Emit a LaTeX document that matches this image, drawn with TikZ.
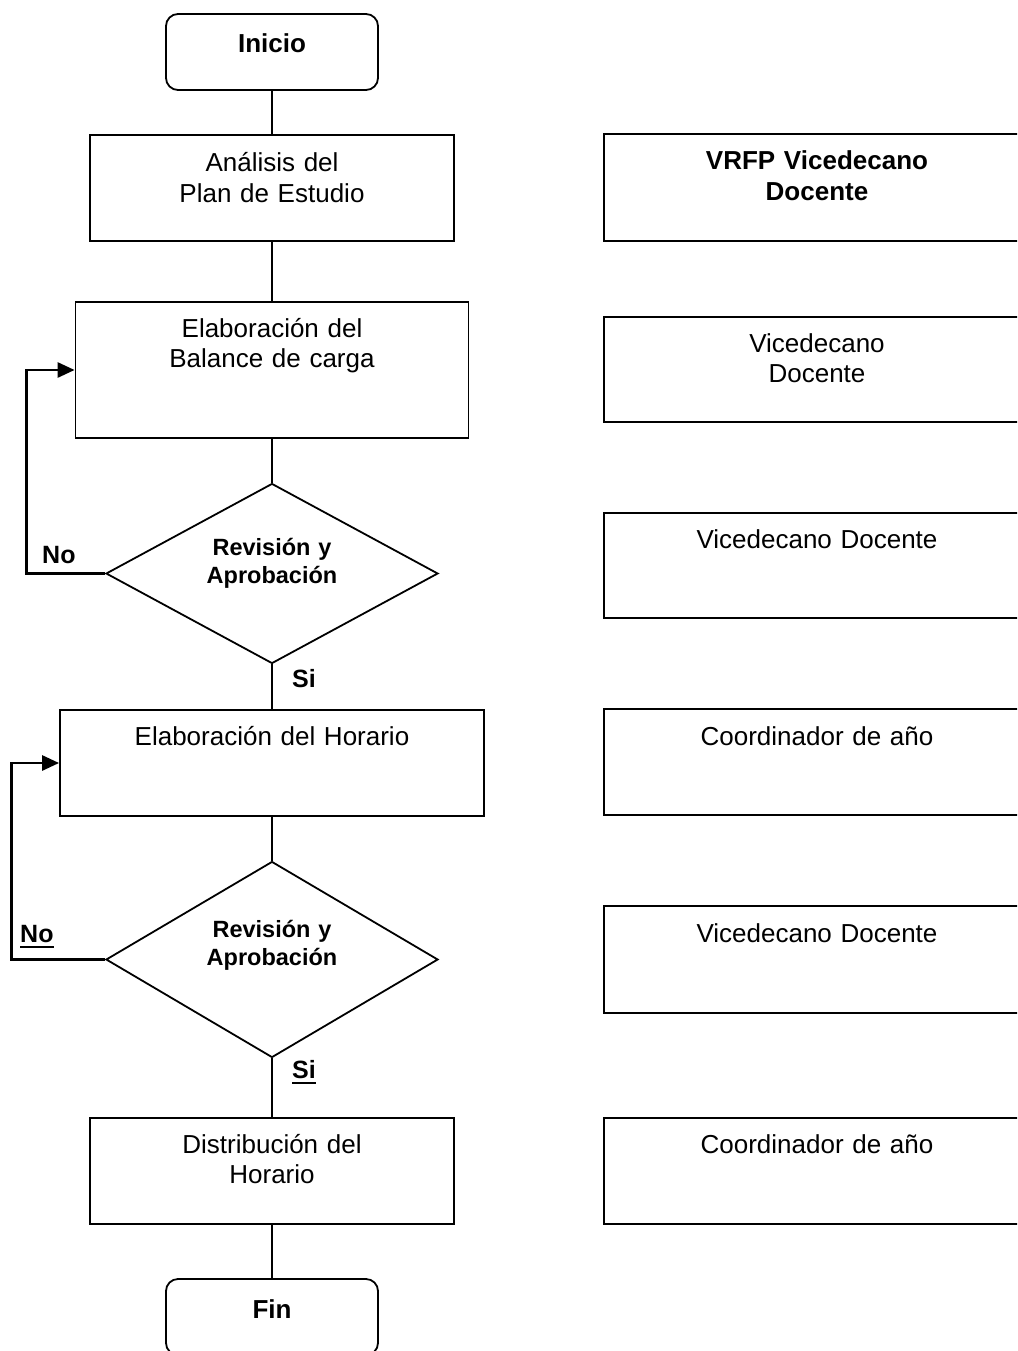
\documentclass[tikz,border=0pt]{standalone}
\usepackage{fontspec}
\setmainfont{Liberation Sans}
\usetikzlibrary{shapes.geometric,arrows.meta}
% bold text with a heavy rule drawn below it
\newcommand\ulbold[1]{\setbox0\hbox{\bfseries #1}\rlap{\rule[-5.5pt]{\wd0}{2pt}}\box0}
\begin{document}
\begin{tikzpicture}[x=1pt,y=-1pt,
  procbox/.style={draw,line width=1.8pt,inner sep=0pt},
  terminal/.style={procbox,rounded corners=12pt,minimum width=212pt,minimum height=76pt},
  decision/.style={draw,diamond,line width=1.8pt,inner sep=0pt,minimum width=332pt},
  rolebox/.style={procbox,minimum width=426pt},
  txt/.style={font=\fontsize{26}{30.5}\selectfont,align=center,text width=420pt,anchor=base,inner sep=0pt},
  dtxt/.style={txt,font=\fontsize{23.5}{28.5}\selectfont\bfseries},
  flag/.style={font=\fontsize{25}{30}\selectfont\bfseries,anchor=base west,inner sep=0pt},
  flow/.style={line width=1.8pt},
  back/.style={line width=2.8pt,-{Triangle[length=17pt,width=15pt]}}]
\path[use as bounding box,clip] (0,0) rectangle (1017,1351);
\fill[white] (0,0) rectangle (1017,1351);

% main flow
\node[terminal] (inicio) at (272,52) {};
\node[txt] (tinicio) at (272,53) {\bfseries Inicio};
\node[procbox,minimum width=364pt,minimum height=106pt] (analisis) at (272,188) {};
\node[txt] (tanalisis) at (272,172) {Análisis del\\Plan de Estudio};
\node[procbox,minimum width=393pt,minimum height=136pt] (balance) at (272,370) {};
\node[txt] (tbalance) at (272,337) {Elaboración del\\Balance de carga};
\node[decision,minimum height=180pt] (rev1) at (272,573.5) {};
\node[dtxt] (trev1) at (272,555) {Revisión y\\Aprobación};
\node[procbox,minimum width=424pt,minimum height=106pt] (horario) at (272,763) {};
\node[txt] (thorario) at (272,745) {Elaboración del Horario};
\node[decision,minimum height=196pt] (rev2) at (272,959.5) {};
\node[dtxt] (trev2) at (272,937) {Revisión y\\Aprobación};
\node[procbox,minimum width=364pt,minimum height=106pt] (distrib) at (272,1171) {};
\node[txt] (tdistrib) at (272,1153) {Distribución del\\Horario};
\node[terminal] (fin) at (272,1317) {};
\node[txt] (tfin) at (272,1318) {\bfseries Fin};

\draw[flow] (inicio) -- (analisis);
\draw[flow] (analisis) -- (balance);
\draw[flow] (balance) -- (rev1);
\draw[flow] (rev1) -- (horario);
\draw[flow] (horario) -- (rev2);
\draw[flow] (rev2) -- (distrib);
\draw[flow] (distrib) -- (fin);

% return paths
\draw[back] (rev1.west) -- ++(-79,0) |- (balance.west);
\draw[back] (rev2.west) -- ++(-94,0) |- (horario.west);

\node[flag] (no1) at (42,563) {No};
\node[flag] (si1) at (292,687) {Si};
\node[flag] (no2) at (20,942) {\ulbold{No}};
\node[flag] (si2) at (292,1078) {\ulbold{Si}};

% responsibles
\node[rolebox,minimum height=107pt] (r1) at (817,187.5) {};
\node[txt] (tr1) at (817,170) {\bfseries VRFP Vicedecano\\Docente};
\node[rolebox,minimum height=105pt] (r2) at (817,369.5) {};
\node[txt] (tr2) at (817,352) {Vicedecano\\Docente};
\node[rolebox,minimum height=105pt] (r3) at (817,565.5) {};
\node[txt] (tr3) at (817,548) {Vicedecano Docente};
\node[rolebox,minimum height=106pt] (r4) at (817,762) {};
\node[txt] (tr4) at (817,745) {Coordinador de año};
\node[rolebox,minimum height=107pt] (r5) at (817,959.5) {};
\node[txt] (tr5) at (817,942) {Vicedecano Docente};
\node[rolebox,minimum height=106pt] (r6) at (817,1171) {};
\node[txt] (tr6) at (817,1153) {Coordinador de año};
\end{tikzpicture}
\end{document}
